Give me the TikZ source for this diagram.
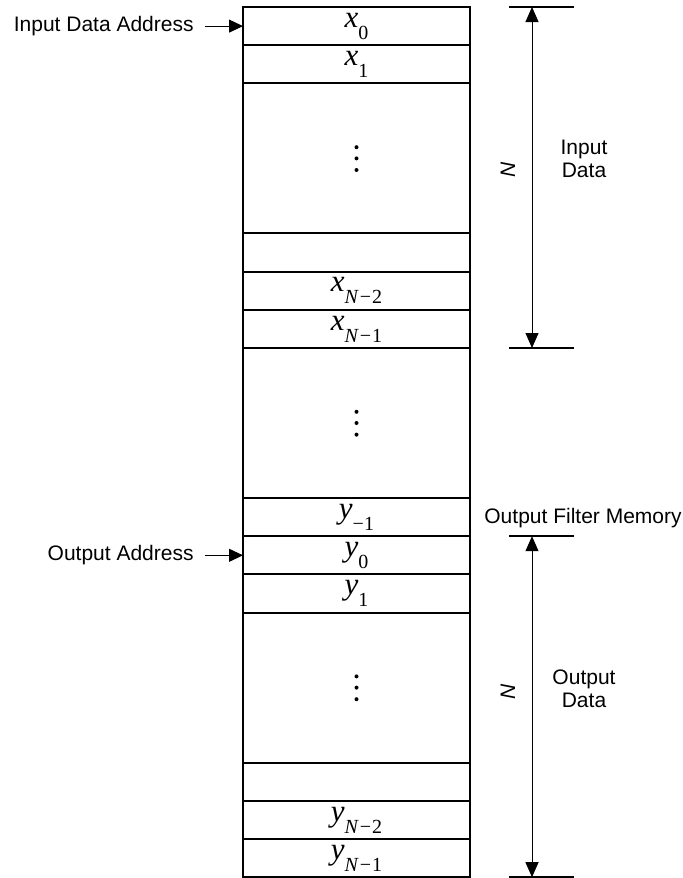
\documentclass[tikz,border=0pt]{standalone}
\usepackage{fontspec}
\setmainfont{Liberation Sans}
\newfontfamily\timesfont{Liberation Serif}
\usetikzlibrary{arrows.meta,positioning}

% one memory word: italic symbol with a lowered index
\newcommand{\memvar}[2]{{\fontsize{15.5}{15.5}\selectfont\timesfont\itshape #1}\raisebox{-6pt}{\fontsize{10}{10}\selectfont\timesfont #2}}
\newcommand{\idxN}[1]{\itshape N\upshape\kern1pt−\kern0.5pt#1}

\begin{document}
\begin{tikzpicture}[x=0.5pt,y=-0.5pt,font=\fontsize{10.5}{11.5}\selectfont,
  node distance=0pt,
  cell/.style={draw,line width=1pt,minimum width=113.5pt,minimum height=19.1pt,inner sep=0pt,outer sep=0pt},
  gapcell/.style={cell,minimum height=75pt},
  addrarrow/.style={-{Triangle[length=7pt,width=6.5pt]},line width=0.5pt,shorten <=5.5pt},
  dimarrow/.style={{Triangle[length=7.5pt,width=6.5pt]}-{Triangle[length=7.5pt,width=6.5pt]},line width=0.5pt},
  dimtick/.style={line width=0.8pt}]
  \useasboundingbox (0,0) rectangle (683,878);

  % memory column
  \node[cell] (x0) at (356.5,26.1) {\memvar{x}{0}};
  \node[cell,below=of x0] (x1) {\memvar{x}{1}};
  \node[gapcell,below=of x1] (xdots) {};
  \node[cell,below=of xdots] (xblank) {};
  \node[cell,below=of xblank] (xn2) {\memvar{x}{\idxN{2}}};
  \node[cell,below=of xn2] (xn1) {\memvar{x}{\idxN{1}}};
  \node[gapcell,below=of xn1] (mdots) {};
  \node[cell,below=of mdots] (ym1) {\memvar{y}{−1}};
  \node[cell,below=of ym1] (y0) {\memvar{y}{0}};
  \node[cell,below=of y0] (y1) {\memvar{y}{1}};
  \node[gapcell,below=of y1] (ydots) {};
  \node[cell,below=of ydots] (yblank) {};
  \node[cell,below=of yblank] (yn2) {\memvar{y}{\idxN{2}}};
  \node[cell,below=of yn2] (yn1) {\memvar{y}{\idxN{1}}};

  \foreach \g in {xdots,mdots,ydots}
    \foreach \d in {-5.8,0,5.6}
      \fill ([yshift=\d pt]\g.center) circle (1pt);

  % address pointers
  \node[anchor=east,inner sep=0pt] (inaddr) at (194,0 |- x0.west) {Input Data Address};
  \draw[addrarrow] (inaddr) -- (x0);
  \node[anchor=east,inner sep=0pt] (outaddr) at (194,0 |- y0.west) {Output Address};
  \draw[addrarrow] (outaddr) -- (y0);

  % input data extent
  \coordinate (intop) at (532,0 |- x0.north);
  \coordinate (inbot) at (532,0 |- xn1.south);
  \draw[dimarrow] (inbot) -- (intop);
  \draw[dimtick] ([xshift=-11.5pt]intop) -- ([xshift=21pt]intop);
  \draw[dimtick] ([xshift=-11.5pt]inbot) -- ([xshift=21pt]inbot);
  \node[rotate=90] (inN) at (508,170) {\textit{N}};
  \node[align=center] (indata) at (584,159) {Input\\Data};

  % output data extent
  \node (filtmem) at (583,518) {Output Filter Memory};
  \coordinate (outtop) at (532,0 |- y0.north);
  \coordinate (outbot) at (532,0 |- yn1.south);
  \draw[dimarrow] (outbot) -- (outtop);
  \draw[dimtick] ([xshift=-11.5pt]outtop) -- ([xshift=21pt]outtop);
  \draw[dimtick] ([xshift=-11.5pt]outbot) -- ([xshift=21pt]outbot);
  \node[rotate=90] (outN) at (508,692) {\textit{N}};
  \node[align=center] (outdata) at (584,689) {Output\\Data};
\end{tikzpicture}
\end{document}
